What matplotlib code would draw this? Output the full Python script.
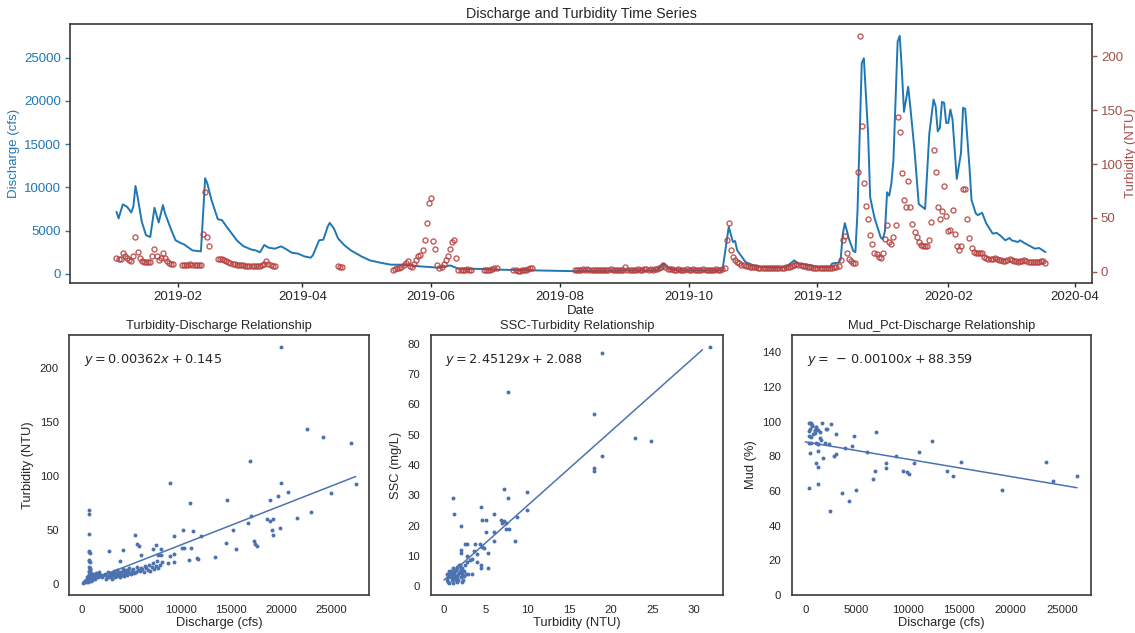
import numpy as np
import pandas as pd
import matplotlib
matplotlib.use("Agg")
import matplotlib.pyplot as plt
import matplotlib.dates as mdates
import seaborn as sns

# ---- discharge hydrograph (cfs), vertices ----
q_dates = ["2019-01-03", "2019-01-04", "2019-01-06", "2019-01-08", "2019-01-10", "2019-01-11", "2019-01-12", "2019-01-13",
           "2019-01-15", "2019-01-17", "2019-01-19", "2019-01-21", "2019-01-23", "2019-01-25", "2019-01-26", "2019-01-29",
           "2019-01-31", "2019-02-02", "2019-02-04", "2019-02-08", "2019-02-12", "2019-02-14", "2019-02-15", "2019-02-17",
           "2019-02-20", "2019-02-22", "2019-02-24", "2019-02-26", "2019-03-01", "2019-03-04", "2019-03-08", "2019-03-10",
           "2019-03-12", "2019-03-14", "2019-03-16", "2019-03-19", "2019-03-22", "2019-03-24", "2019-03-27", "2019-03-30",
           "2019-04-02", "2019-04-05", "2019-04-06", "2019-04-09", "2019-04-11", "2019-04-13", "2019-04-14", "2019-04-16",
           "2019-04-18", "2019-04-21", "2019-04-24", "2019-04-29", "2019-05-03", "2019-05-08", "2019-05-13", "2019-05-18",
           "2019-05-22", "2019-05-27", "2019-06-01", "2019-06-04", "2019-06-07", "2019-06-10", "2019-06-12", "2019-06-14",
           "2019-06-25", "2019-07-04", "2019-07-23", "2019-08-08", "2019-09-01", "2019-09-16", "2019-09-19", "2019-09-22",
           "2019-09-26", "2019-10-17", "2019-10-20", "2019-10-22", "2019-10-23", "2019-10-24", "2019-10-28", "2019-11-02",
           "2019-11-10", "2019-11-16", "2019-11-20", "2019-11-22", "2019-11-26", "2019-12-01", "2019-12-07", "2019-12-08",
           "2019-12-11", "2019-12-12", "2019-12-13", "2019-12-14", "2019-12-16", "2019-12-18", "2019-12-19", "2019-12-20",
           "2019-12-21", "2019-12-22", "2019-12-23", "2019-12-25", "2019-12-26", "2019-12-28", "2019-12-31", "2020-01-01",
           "2020-01-02", "2020-01-03", "2020-01-04", "2020-01-05", "2020-01-06", "2020-01-08", "2020-01-09", "2020-01-10",
           "2020-01-11", "2020-01-13", "2020-01-14", "2020-01-16", "2020-01-18", "2020-01-21", "2020-01-23", "2020-01-25",
           "2020-01-26", "2020-01-27", "2020-01-28", "2020-01-29", "2020-01-30", "2020-01-31", "2020-02-01", "2020-02-02",
           "2020-02-03", "2020-02-05", "2020-02-07", "2020-02-08", "2020-02-09", "2020-02-11", "2020-02-12", "2020-02-14",
           "2020-02-15", "2020-02-17", "2020-02-19", "2020-02-22", "2020-02-24", "2020-02-26", "2020-02-28", "2020-03-01",
           "2020-03-02", "2020-03-05", "2020-03-06", "2020-03-08", "2020-03-11", "2020-03-13", "2020-03-15", "2020-03-18"]
q_cfs = [7160, 6400, 8020, 7750, 7090, 7750, 10150, 8900, 6000, 4450, 4250, 7630, 5930, 7940, 6980, 5030, 3870,
         3600, 3400, 2700, 2590, 11050, 10470, 8520, 6310, 6200, 5500, 4840,
         3870, 3200, 2790, 2700, 2480, 3330, 3020, 2900, 3170, 2900, 2440, 2330,
         2010, 1860, 2130, 3870, 3950, 5420, 5880, 5230, 4070, 3290, 2710, 2010,
         1550, 1280, 1050, 1050, 970, 850,
         770, 700, 770, 970, 770, 580, 560,
         470, 380, 300,
         380, 380, 1160, 580, 380,
         380, 5420, 3670, 3790, 2710, 1350,
         850, 700, 770, 1550, 1160, 1080,
         800, 800, 1200, 1280, 1660, 4570, 5850, 3990, 2630, 2510, 7280, 15810, 24340, 24920, 16200, 8840, 6510, 4190,
         3990, 4950, 9420, 9030, 10380, 13090, 26860, 27510, 23560, 18720, 21630, 19300, 14260, 8060, 7480, 16200,
         20150, 19370, 16470, 16860, 19880, 19770, 17440,
         17440, 18990, 17830, 10970, 13950, 19190, 19070, 12400, 8520, 6980, 6780, 7050, 5810, 4650, 4720, 4340, 3870,
         4140, 3870, 3670, 3870, 3560, 3170, 2900, 2980, 2510]

# ---- daily turbidity (NTU), runs of consecutive days ----
turb_jan19 = [13, 12, 12, 17, 15, 13, 11, 10, 15, 32, 18, 13, 10, 9, 9, 9, 9, 15, 21, 15, 11, 13, 17, 13, 10, 8, 7, 7]
turb_feb19 = [6.5, 6.5, 6.5, 6.5, 7, 6.5, 6.5, 6, 6, 6, 35, 74, 32, 24]
turb_mar19 = [12, 12, 12, 11, 10, 9, 8, 7.5, 7, 6.5, 6, 6.5, 6, 5.5, 5, 5, 5, 5, 5, 5, 5, 6, 7, 10, 7, 6, 5, 5]
turb_apr19 = [5, 4.5, 4.5]
turb_may19 = [1.9, 2.5, 3.5, 3.5, 4.4, 6.5, 8.1, 9.6, 4.9, 4.4, 7.5, 11.2, 14.3, 15.9, 19.9, 29, 44.9, 64.2, 68.2,
              28.3, 21.2, 5.9, 3.5, 4.4, 7.2, 11.2, 15, 21.2, 27.4, 29.3, 12.8, 1.2, 1.2, 1.2, 1.9, 2.5, 1.2, 1.2]
turb_jun19 = [1.2, 1.2, 1.9, 1.9, 2.5, 3, 3.5]
turb_jul19 = [1.2, 1.2, 0.5, 0.5, 1.2, 1.2, 1.9, 2.8, 3.5, 3.5]
turb_aug19 = [1.2, 1.5, 1.9, 1.9, 2.2, 1.9, 2.5, 1.9, 1.5, 1.5, 1.9, 1.9, 1.5, 1.2, 1.5, 1.9, 1.9, 2.2, 1.9, 1.5,
              1.5, 1.9, 1.9, 1.5]
turb_sep19 = [4.5, 1.5, 1.2, 1.5, 1.9, 1.9, 2.2, 1.9, 1.9, 2.5, 2.2, 1.9, 2.5, 1.9, 2.2, 2.8, 3.5, 4.5, 6.5, 4.0,
              2.8, 2.5, 2.2, 1.9, 1.9, 2.2, 1.9, 1.5, 1.9, 2.2]
turb_oct19 = [1.9, 1.9, 2.2, 1.9, 1.5, 1.9, 1.9, 2.2, 1.9, 1.9, 1.5, 1.9, 1.9, 2.2, 1.9, 1.9, 2.5, 3.5,
              29, 45, 20, 14, 11, 9, 8, 6.5, 6, 5, 5, 4.5, 4.5]
turb_nov19 = [4, 4, 3.5, 3.5, 3.5, 3, 3, 3, 3.5, 3, 3, 3, 3.5, 3.5, 3.5, 4, 4, 4.5, 5, 6, 7, 6.5, 6, 5, 5,
              4.5, 4, 4, 3.5, 3.5]
turb_dec19 = [3.5, 3.5, 3.5, 3, 3, 3, 3, 3.5, 4, 4.5, 5.3, 10.6, 29.9, 33.6, 17.5, 12.1, 9.6, 8.4, 8, 93, 219,
              135, 82, 61, 49, 34, 26, 17.5, 16, 14, 13]
turb_jan20 = [17, 30, 43, 28, 25.5, 32, 43, 144, 130, 92, 67, 60, 84, 60, 44, 37, 32, 28, 25, 24, 24, 24, 29, 46,
              113, 93, 60.5, 49, 56, 80, 52]
turb_feb20 = [38, 39, 57, 35, 24, 20, 24, 77, 77, 49, 31, 22, 18, 17, 17, 17, 17, 14, 13, 12, 12, 12, 13, 12, 11,
              11, 10, 10, 11]
turb_mar20 = [12, 11, 10, 10, 9, 10, 10, 11, 10, 9, 9, 9, 9, 9, 9, 9.5, 9.5, 8]
turb_runs = [("2019-01-03", turb_jan19), ("2019-02-03", turb_feb19), ("2019-02-20", turb_mar19),
             ("2019-04-18", turb_apr19), ("2019-05-14", turb_may19), ("2019-06-26", turb_jun19),
             ("2019-07-10", turb_jul19), ("2019-08-08", turb_aug19), ("2019-09-01", turb_sep19),
             ("2019-10-01", turb_oct19), ("2019-11-01", turb_nov19), ("2019-12-01", turb_dec19),
             ("2020-01-01", turb_jan20), ("2020-02-01", turb_feb20), ("2020-03-01", turb_mar20)]

# ---- turbidity vs discharge scatter ----
tq_q = [20000, 22600, 24200, 27000, 16900, 8900, 20000, 27500, 25000, 20700, 19700, 18900, 14600, 10900, 23000,
        17000, 21600, 18600, 19200, 18900, 15200, 16700, 19100, 19900, 19200, 17300, 17400, 17600, 14500, 15500,
        13400, 11600, 11650, 10800, 12000, 11200, 10950, 10150, 10050, 10250, 9250, 9300, 8900, 8700, 9250, 7950,
        7450, 7150, 7700, 7950, 5950, 5350, 5550, 5800, 4150, 2770, 3840,
        720, 760, 800, 740, 780, 820, 760, 800, 840, 780, 820, 860, 900, 760, 800,
        150, 250, 300, 400, 450, 500, 550, 600, 650, 700, 750, 800, 850, 900, 950, 1000, 1050, 1100, 1150, 1200,
        1300, 1400, 1500, 1600, 1700, 1800, 1900, 2000, 350, 450, 600, 700, 800, 900, 1000, 1100, 1200, 1350,
        1500, 1650, 1800,
        2100, 2300, 2500, 2600, 2800, 2900, 3000, 3100, 3200, 3300, 3400, 3500, 3600, 3700, 3800, 3900, 4000,
        4100, 4200, 4300, 4400, 4500, 4600, 4700, 4800, 5000, 5100, 5300, 5500, 5700, 5900, 6100, 6300, 6500,
        6700, 6900, 7100, 7300, 7500, 7700, 7900, 8100, 2400, 2700, 3000, 3300, 3600, 3900, 4200, 4500, 4800,
        5200, 5600, 6000, 6400, 6800, 7200, 7600]
tq_turb = [220, 144, 136, 131, 114, 94, 94, 93, 84, 85, 82, 78, 78, 75, 67,
           63, 61, 60, 60, 58, 50, 57, 50, 52, 45, 40, 37, 35, 38, 32,
           25, 24, 23, 22, 44.6, 49, 33.6, 50, 33.6, 33.6, 44.6, 28, 26, 19.5, 20.4, 32,
           35.8, 32, 27, 27, 27.3, 45.5, 36.7, 35, 31.4, 30.5, 21,
           69, 65, 46, 31, 30, 29, 22, 21, 20, 16, 15, 14, 13, 12, 11,
           1, 2, 1.5, 3, 2, 2.5, 3, 4, 2, 3.5, 3, 5, 4, 6, 3, 5, 4, 6, 5, 7,
           6, 5, 7, 8, 6, 9, 7, 8, 3, 4, 6, 7, 8, 9, 10, 8, 9, 7,
           10, 9, 11,
           6, 8, 5, 7, 6, 9, 7, 5, 8, 10, 6, 9, 7, 11, 8, 6, 10,
           8, 12, 7, 9, 11, 8, 13, 10, 9, 12, 10, 11, 13, 12, 14, 11, 15,
           13, 12, 16, 14, 17, 15, 18, 20, 9, 11, 10, 12, 13, 11, 14, 13, 15,
           14, 16, 15, 17, 18, 19, 21]

# ---- SSC vs turbidity scatter ----
st_turb = [31.9, 18.9, 7.7, 18, 22.9, 24.8, 18.9, 18, 18, 1.1, 7.2, 9.9, 7.7, 1.2, 4.4, 9.9, 8.8, 4.5, 5, 6,
           6.8, 7.2, 7.4, 7.0, 2, 5, 6, 7.4, 7.8, 8.5, 6, 2.5, 2.7, 3.7, 4.3, 4.5, 4.8, 2, 2, 3.6, 4.0, 5.3, 2.7,
           3.3, 3.1, 4.0, 4.4, 5.3, 4.4, 2.9, 3.3,
           0.3, 0.5, 0.6, 0.7, 0.8, 0.9, 1.0, 1.1, 1.2, 1.3, 1.4, 1.5, 1.6, 1.7, 1.8, 1.9, 2.0, 2.1, 2.2, 2.3,
           2.4, 2.5, 0.4, 0.6, 0.8, 1.0, 1.2, 1.4, 1.6, 1.8, 2.0, 2.2, 0.5, 0.9, 1.3, 1.7, 2.1, 2.4, 1.1, 1.5,
           1.9, 2.6, 2.8, 1.6]
st_ssc = [79, 77, 64, 57, 49, 48, 43, 39, 38, 29, 32, 31, 29, 24, 26, 25, 23, 22, 22, 24,
          22, 21.5, 21, 21, 20, 18, 18, 19, 19, 15, 15, 14, 14, 14, 14, 13, 12.5, 12, 11, 11.5, 10.5, 11, 10,
          9, 8.5, 8, 7, 6, 6, 4, 4,
          2, 3, 1, 4, 5, 2, 3, 6, 4, 5, 2, 3, 6, 4, 7, 5, 3, 6, 4, 2,
          5, 7, 4, 5, 3, 4.5, 2.5, 5.5, 3.5, 4.5, 6, 5, 1.5, 4, 3, 2, 1.5, 3.5, 1, 6.5,
          7, 4, 8, 1.5]

# ---- mud percentage vs discharge scatter ----
mq_q = [357, 500, 600, 700, 357, 357, 680, 908, 908, 550, 357, 1070, 1230, 1070, 1230, 1400, 1550, 420, 1070,
        357, 1230, 1230, 1070, 1250, 1400, 1650, 2000, 2150, 1880, 2270, 2530, 1720, 1230, 2370, 2760, 2950,
        3020, 3600, 3830, 4220, 4540, 4730, 4960, 6000, 6580, 6810, 6840, 7880, 7880, 8850, 9500, 9920, 10090,
        10570, 11030, 12320, 13780, 14430, 15210, 19130, 23450, 24100, 26460, 450, 800, 600, 950]
mq_mud = [99.4, 99, 99, 98, 94.6, 91.7, 97.5, 94.6, 93.3, 91.3, 87.9, 87.9, 86.9, 97, 86.9, 90.8, 89.4, 81.7, 75.9,
          61.8, 74, 83, 97, 95.5, 94, 99.4, 96, 96, 87.9, 86.9, 98.9, 78.8, 64.1, 48.3, 80.1, 92.7,
          81.1, 58.9, 85, 54.4, 85.9, 91.7, 60.8, 82.6, 67, 71.8, 94, 76.3, 73, 80.1, 71.8, 71, 70,
          75.9, 82.8, 88.6, 71.8, 68.9, 76.8, 60.8, 76.8, 65.5, 68.9, 96, 93, 88, 95]

# regression coefficients printed on the panels
fit_tq = (0.00362, 0.145)
fit_st = (2.45129, 2.088)
fit_mq = (-0.00100, 88.359)

assert len(q_dates) == len(q_cfs)
assert len(tq_q) == len(tq_turb) and len(st_turb) == len(st_ssc) and len(mq_q) == len(mq_mud)

sns.set_style("white")
plt.rcParams["font.family"] = ["Liberation Sans", "DejaVu Sans"]
plt.rcParams["axes.edgecolor"] = "#3a3a3a"
plt.rcParams["axes.linewidth"] = 1.2
plt.rcParams["text.color"] = "#262626"
plt.rcParams["axes.labelcolor"] = "#262626"
plt.rcParams["xtick.color"] = "#262626"
plt.rcParams["ytick.color"] = "#262626"

BLUE = "#1f77b4"
BROWN = "#a0524b"
RED = "#b5403f"
SNS_BLUE = "#4c72b0"

fig = plt.figure(figsize=(11.35, 6.33), dpi=100)

# ---- top: time series ----
ax = fig.add_axes([0.0617, 0.553, 0.9003, 0.409])
ax.plot(pd.to_datetime(q_dates), q_cfs, color=BLUE, lw=1.4)
ax.set_ylabel("Discharge (cfs)", color=BLUE, fontsize=9.5, labelpad=3)
ax.set_xlabel("Date", fontsize=9.5, labelpad=1)
ax.tick_params(axis="y", colors=BLUE, labelsize=9.5, left=True, length=3.5, width=1, pad=3)
ax.tick_params(axis="x", labelsize=9.5, bottom=True, length=3, width=1, pad=3)
ax.xaxis.set_major_locator(mdates.MonthLocator(bymonth=[2, 4, 6, 8, 10, 12]))
ax.xaxis.set_major_formatter(mdates.DateFormatter("%Y-%m"))
ax.set_title("Discharge and Turbidity Time Series", fontsize=10.3, pad=4)

ax2 = ax.twinx()
t_dates, t_vals = [], []
for start, vals in turb_runs:
    t_dates.extend(pd.date_range(start, periods=len(vals), freq="D"))
    t_vals.extend(vals)
ax2.plot(t_dates, t_vals, linestyle="none", marker="o", markersize=3.6, mfc="none", mec=RED, mew=1.0, alpha=0.85)
ax2.set_ylabel("Turbidity (NTU)", color=BROWN, fontsize=9.5, labelpad=1)
ax2.tick_params(axis="y", colors=BROWN, labelsize=9.5, right=True, length=3.5, width=1, pad=3)
for sp in ax2.spines.values():
    sp.set_visible(False)


def scatter_panel(rect, x, y, fit, title, xlabel, ylabel, eq, ylim=None, xline=None):
    a = fig.add_axes(rect)
    a.scatter(x, y, s=8, color=SNS_BLUE, linewidths=0)
    lo, hi = xline if xline else (min(x), max(x))
    a.plot([lo, hi], [fit[0] * lo + fit[1], fit[0] * hi + fit[1]], color=SNS_BLUE, lw=1.1)
    a.set_title(title, fontsize=9.3, pad=4)
    a.set_xlabel(xlabel, fontsize=9.3, labelpad=1)
    a.set_ylabel(ylabel, fontsize=9.3, labelpad=4)
    a.tick_params(labelsize=8.2, pad=4)
    if ylim:
        a.set_ylim(*ylim)
    a.text(0.05, 0.905, eq, transform=a.transAxes, fontsize=9.3, va="center", ha="left")
    return a


scatter_panel([0.0611, 0.060, 0.2643, 0.4107], tq_q, tq_turb, fit_tq, "Turbidity-Discharge Relationship",
              "Discharge (cfs)", "Turbidity (NTU)", r"$y = 0.00362x + 0.145$")
scatter_panel([0.3795, 0.060, 0.2578, 0.4107], st_turb, st_ssc, fit_st, "SSC-Turbidity Relationship",
              "Turbidity (NTU)", "SSC (mg/L)", r"$y = 2.45129x + 2.088$", xline=(0.0, 31.0))
scatter_panel([0.6975, 0.060, 0.2634, 0.4107], mq_q, mq_mud, fit_mq, "Mud_Pct-Discharge Relationship",
              "Discharge (cfs)", "Mud (%)", r"$y = \,-\,0.00100x + 88.359$", ylim=(0, 150), xline=(0.0, max(mq_q)))

fig.savefig("out.png", dpi=100)
